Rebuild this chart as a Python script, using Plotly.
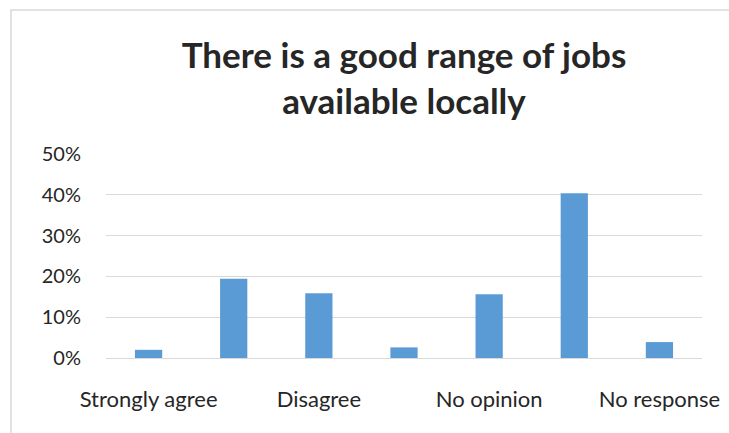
import plotly.graph_objects as go

# Survey responses for the statement, share of respondents
categories = ["Strongly agree", "Agree", "Disagree", "Strongly disagree",
              "No opinion", "Don't know", "No response"]
shares = [0.020, 0.194, 0.159, 0.026, 0.156, 0.404, 0.039]
# every other category is labelled on the axis
shown_labels = ["Strongly agree", "Disagree", "No opinion", "No response"]
y_ticks = [0, 0.1, 0.2, 0.3, 0.4, 0.5]

W, H = 729, 433
L, R, T, B = 106, 27, 154, 75
pw, ph = W - L - R, H - T - B

fig = go.Figure(go.Bar(
    x=categories, y=shares,
    marker=dict(color="#5b9bd5", line=dict(width=0)),
    width=0.32,
))

fig.update_layout(
    width=W, height=H,
    margin=dict(l=L, r=R, t=T, b=B, autoexpand=False),
    paper_bgcolor="white", plot_bgcolor="white",
    font=dict(family="Lato, Open Sans, sans-serif", size=20, color="#262626"),
    title=dict(
        text="There is a good range of jobs<br>available locally",
        x=0.5, xref="paper", xanchor="center",
        y=1 - 68 / H, yanchor="middle",
        font=dict(family="Lato, Open Sans, sans-serif", size=35, color="#262626",
                  weight="bold"),
    ),
    showlegend=False,
)

fig.update_xaxes(
    type="category", automargin=False,
    tickmode="array", tickvals=shown_labels, ticktext=shown_labels,
    showgrid=False, showline=False, zeroline=False,
    ticks="", ticklabelstandoff=26,
    tickfont=dict(size=22),
)
fig.update_yaxes(
    range=[0, 0.5], tickvals=y_ticks, tickformat=".0%", automargin=False,
    showgrid=True, gridcolor="#d9d9d9", gridwidth=1,
    zeroline=True, zerolinecolor="#d9d9d9", zerolinewidth=1,
    showline=False, ticks="", ticklabelstandoff=24,
    tickfont=dict(size=20),
)

# chart frame (top and left edges inside the view)
fx0 = (11 - L) / pw
fy1 = (H - B - 10) / ph
fig.add_shape(type="rect", xref="paper", yref="paper",
              x0=fx0, x1=(W + 20 - L) / pw, y0=-(B + 20) / ph, y1=fy1,
              line=dict(color="#d9d9d9", width=1.5), fillcolor="rgba(0,0,0,0)",
              layer="below")

fig.write_html("out.html")
